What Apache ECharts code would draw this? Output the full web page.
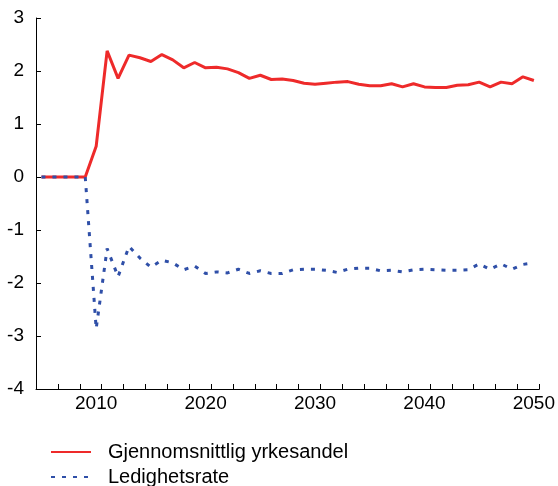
<!DOCTYPE html>
<html>
<head>
<meta charset="utf-8">
<script src="https://cdn.jsdelivr.net/npm/echarts@6/dist/echarts.min.js"></script>
<style>html,body{margin:0;padding:0;background:#fff;}#c{width:558px;height:486px;}</style>
</head>
<body>
<div id="c"></div>
<script>
const years = [];
for (let y = 2005; y <= 2050; y++) years.push(String(y));

const yrkesandel = [0, 0, 0, 0, 0, 0.58, 2.38, 1.86, 2.30, 2.25, 2.18, 2.31, 2.21, 2.06, 2.16,
  2.06, 2.07, 2.04, 1.97, 1.86, 1.92, 1.84, 1.85, 1.82, 1.77, 1.75, 1.77, 1.79, 1.80, 1.75,
  1.72, 1.72, 1.76, 1.70, 1.76, 1.70, 1.69, 1.69, 1.73, 1.74, 1.79, 1.70, 1.79, 1.76, 1.89, 1.82];

const ledighetsrate = [0, 0, 0, 0, 0, -2.86, -1.35, -1.88, -1.31, -1.53, -1.70, -1.57, -1.62, -1.75, -1.68,
  -1.82, -1.79, -1.81, -1.74, -1.82, -1.77, -1.82, -1.82, -1.75, -1.74, -1.74, -1.76, -1.80, -1.74, -1.72,
  -1.72, -1.77, -1.76, -1.79, -1.75, -1.74, -1.75, -1.76, -1.76, -1.75, -1.64, -1.74, -1.64, -1.74, -1.65, -1.62];

const yTicks = [-4, -3, -2, -1, 0, 1, 2, 3];

const chart = echarts.init(document.getElementById('c'));
const font = 'Liberation Sans, Arial, sans-serif';
chart.setOption({
  animation: false,
  backgroundColor: '#fff',
  grid: { left: 36, right: 18, top: 18, bottom: 97 },
  legend: {
    orient: 'vertical',
    left: 50,
    top: 442,
    height: 80,
    padding: 0,
    itemWidth: 40,
    itemHeight: 14,
    itemGap: 5,
    itemStyle: { opacity: 0 },
    textStyle: { fontFamily: font, fontSize: 20, color: '#000', padding: [0, 0, 0, 12] },
    data: ['Gjennomsnittlig yrkesandel', 'Ledighetsrate']
  },
  xAxis: {
    type: 'category',
    data: years,
    boundaryGap: true,
    axisLine: { onZero: false, lineStyle: { color: '#000', width: 1 } },
    axisTick: {
      show: true, inside: true, length: 5, lineStyle: { color: '#000', width: 1 },
      interval: function (idx) { return idx % 2 === 0 && idx > 0; }
    },
    axisLabel: {
      fontFamily: font, fontSize: 19, color: '#000', margin: 5,
      interval: function (idx, val) { return Number(val) % 10 === 0; }
    },
    splitLine: { show: false }
  },
  yAxis: {
    type: 'value',
    min: yTicks[0],
    max: yTicks[yTicks.length - 1],
    interval: 1,
    axisLine: { show: true, lineStyle: { color: '#000', width: 1 } },
    axisTick: { show: true, inside: true, length: 5, lineStyle: { color: '#000', width: 1 } },
    axisLabel: { fontFamily: font, fontSize: 19, color: '#000', margin: 12 },
    splitLine: { show: false }
  },
  series: [
    {
      name: 'Gjennomsnittlig yrkesandel',
      type: 'line',
      data: yrkesandel,
      symbol: 'none',
      z: 2,
      lineStyle: { color: '#ee2a2a', width: 3 },
      itemStyle: { color: '#ee2a2a' }
    },
    {
      name: 'Ledighetsrate',
      type: 'line',
      data: ledighetsrate,
      symbol: 'none',
      z: 3,
      lineStyle: { color: '#2f4fa8', width: 3, type: [4, 7] },
      itemStyle: { color: '#2f4fa8' }
    }
  ]
});
</script>
</body>
</html>
